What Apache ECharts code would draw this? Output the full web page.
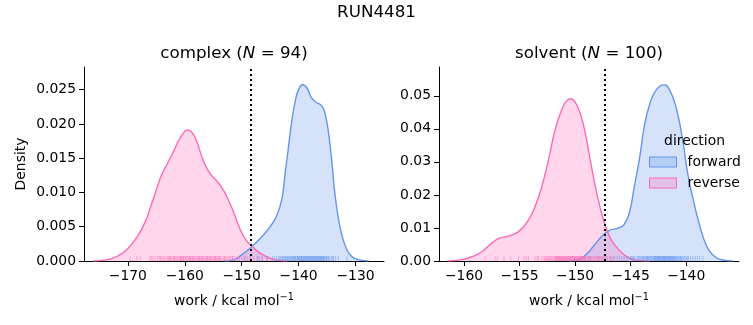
<!DOCTYPE html>
<html>
<head>
<meta charset="utf-8">
<script src="https://cdn.jsdelivr.net/npm/echarts@6/dist/echarts.min.js"></script>
<style>
  html, body { margin: 0; padding: 0; background: #fff; }
  #chart { width: 753px; height: 325px; }
</style>
</head>
<body>
<div id="chart"></div>
<script>
// ---- complex leg ----
const complexXTicks = [-170, -160, -150, -140, -130];
const complexYTicks = [0, 0.005, 0.010, 0.015, 0.020, 0.025];
const complexCutoff = -148.4;
// density curves: [work, density]
const complexForwardKde = [
  [-153.0, 0], [-151.7, 0.0001], [-150.0, 0.0009], [-148.2, 0.0021], [-146.4, 0.0036],
  [-145.0, 0.0050], [-143.8, 0.0067], [-142.9, 0.0092], [-142.4, 0.0126], [-141.8, 0.0165],
  [-141.2, 0.0204], [-140.6, 0.0233], [-140.0, 0.0250], [-139.3, 0.0257], [-138.5, 0.0252],
  [-137.8, 0.0239], [-137.0, 0.0232], [-135.9, 0.0226], [-135.3, 0.0213], [-134.7, 0.0184],
  [-134.1, 0.0140], [-133.6, 0.0096], [-133.0, 0.0062], [-132.4, 0.0038], [-131.5, 0.0016],
  [-130.6, 0.0006], [-129.5, 0.0002], [-127.7, 0]
];
const complexReverseKde = [
  [-176.0, 0], [-173.6, 0.0002], [-171.8, 0.0007], [-170.1, 0.0017], [-168.3, 0.0036],
  [-166.8, 0.0060], [-166.0, 0.0079], [-165.1, 0.0101], [-164.2, 0.0123], [-163.0, 0.0143],
  [-161.9, 0.0161], [-161.0, 0.0177], [-160.1, 0.0188], [-159.6, 0.0191], [-158.9, 0.0189],
  [-158.0, 0.0177], [-157.2, 0.0157], [-156.3, 0.0138], [-155.4, 0.0126], [-154.3, 0.0116],
  [-153.4, 0.0106], [-152.5, 0.0092], [-151.6, 0.0075], [-150.7, 0.0055], [-149.9, 0.0040],
  [-149.0, 0.0028], [-148.1, 0.0021], [-147.2, 0.0014], [-146.0, 0.0008], [-145.0, 0.0004],
  [-143.5, 0.0001], [-142.0, 0]
];
// individual work values (rug)
const complexForwardWork = [
  -151.6, -149.4, -148.5, -147.3, -146.9, -146.4, -145.5, -144.6, -144.2, -143.9,
  -143.5, -143.3, -143.1, -142.9, -142.8, -142.6, -142.5, -142.3, -142.2, -142.0,
  -141.9, -141.8, -141.6, -141.5, -141.3, -141.2, -141.1, -140.9, -140.8, -140.7,
  -140.6, -140.5, -140.3, -140.2, -140.1, -140.0, -139.9, -139.8, -139.7, -139.6,
  -139.5, -139.4, -139.3, -139.2, -139.1, -139.0, -138.9, -138.8, -138.7, -138.6,
  -138.5, -138.4, -138.3, -138.2, -138.1, -138.0, -137.9, -137.8, -137.7, -137.6,
  -137.5, -137.4, -137.3, -137.2, -137.1, -137.0, -136.9, -136.8, -136.7, -136.6,
  -136.5, -136.4, -136.3, -136.2, -136.1, -136.0, -135.9, -135.8, -135.7, -135.6,
  -135.5, -135.4, -135.2, -135.1, -135.0, -134.8, -134.7, -134.5, -134.2, -134.0,
  -133.9, -133.5, -133.0, -131.5
];
const complexReverseWork = [
  -169.6, -168.4, -167.8, -166.1, -165.9, -165.6, -165.2, -164.8, -164.5, -164.3,
  -164.1, -163.8, -163.6, -163.3, -163.0, -162.8, -162.7, -162.5, -162.3, -162.0,
  -161.9, -161.8, -161.6, -161.4, -161.2, -161.0, -160.8, -160.7, -160.6, -160.5,
  -160.3, -160.2, -160.1, -159.9, -159.7, -159.5, -159.4, -159.2, -159.1, -159.0,
  -158.8, -158.6, -158.5, -158.4, -158.2, -158.0, -157.8, -157.6, -157.5, -157.4,
  -157.2, -157.0, -156.9, -156.8, -156.6, -156.4, -156.2, -156.1, -156.0, -155.8,
  -155.6, -155.5, -155.4, -155.2, -155.0, -154.8, -154.7, -154.6, -154.4, -154.2,
  -154.0, -153.9, -153.8, -153.6, -153.3, -153.1, -153.0, -152.8, -152.5, -152.2,
  -152.0, -151.9, -151.6, -151.2, -150.8, -150.4, -150.0, -149.6, -149.0, -148.5,
  -147.9, -147.2, -146.4, -145.6
];

// ---- solvent leg ----
const solventXTicks = [-160, -155, -150, -145, -140];
const solventYTicks = [0, 0.01, 0.02, 0.03, 0.04, 0.05];
const solventCutoff = -147.3;
const solventForwardKde = [
  [-150.5, 0], [-149.7, 0.0004], [-149.0, 0.0020], [-148.3, 0.0047], [-147.5, 0.0078],
  [-146.9, 0.0093], [-146.2, 0.0099], [-145.6, 0.0110], [-145.1, 0.0149], [-144.7, 0.0220],
  [-144.2, 0.0311], [-143.8, 0.0402], [-143.3, 0.0473], [-142.7, 0.0518], [-142.0, 0.0533],
  [-141.5, 0.0518], [-140.9, 0.0463], [-140.3, 0.0362], [-139.9, 0.0271], [-139.4, 0.0190],
  [-138.8, 0.0109], [-138.2, 0.0048], [-137.6, 0.0018], [-136.7, 0.0003], [-135.8, 0]
];
const solventReverseKde = [
  [-161.5, 0], [-160.2, 0.0004], [-159.3, 0.0013], [-158.4, 0.0028], [-157.5, 0.0054],
  [-156.8, 0.0069], [-156.0, 0.0075], [-155.1, 0.0089], [-154.2, 0.0124], [-153.6, 0.0165],
  [-153.0, 0.0225], [-152.4, 0.0306], [-151.8, 0.0397], [-151.2, 0.0458], [-150.8, 0.0483],
  [-150.4, 0.0491], [-150.0, 0.0481], [-149.6, 0.0452], [-149.2, 0.0405], [-148.9, 0.0355],
  [-148.5, 0.0280], [-148.0, 0.0198], [-147.5, 0.0130], [-147.0, 0.0082], [-146.5, 0.0052],
  [-145.7, 0.0022], [-145.0, 0.0007], [-144.2, 0.0001], [-143.3, 0]
];
const solventForwardWork = [
  -149.1, -148.8, -148.6, -147.9, -147.2, -146.8, -146.5, -146.2, -145.8, -145.4,
  -145.0, -144.8, -144.6, -144.4, -144.2, -144.0, -143.9, -143.8, -143.7, -143.6,
  -143.5, -143.4, -143.3, -143.2, -143.1, -143.0, -142.95, -142.9, -142.85, -142.8,
  -142.75, -142.7, -142.65, -142.6, -142.55, -142.5, -142.45, -142.4, -142.35, -142.3,
  -142.25, -142.2, -142.15, -142.1, -142.05, -142.0, -141.95, -141.9, -141.85, -141.8,
  -141.75, -141.7, -141.65, -141.6, -141.55, -141.5, -141.45, -141.4, -141.35, -141.3,
  -141.25, -141.2, -141.1, -141.0, -140.9, -140.8, -140.7, -140.6, -140.5, -140.4,
  -140.3, -140.2, -140.1, -140.0, -139.9, -139.8, -139.6, -139.4, -139.2, -139.0,
  -138.8, -138.5, -145.6, -144.9, -144.3, -143.85, -143.45, -143.15, -142.0, -141.15,
  -140.85, -140.45, -141.05, -142.45, -143.55, -144.1, -144.7, -145.2, -146.0, -147.5
];
const solventReverseWork = [
  -158.1, -157.2, -157.0, -156.4, -155.8, -155.1, -154.6, -154.4, -154.2, -153.6,
  -153.4, -153.3, -152.8, -152.6, -152.5, -152.4, -152.3, -152.2, -152.1, -152.0,
  -151.9, -151.8, -151.75, -151.7, -151.6, -151.55, -151.5, -151.4, -151.35, -151.3,
  -151.2, -151.15, -151.1, -151.0, -150.95, -150.9, -150.85, -150.8, -150.75, -150.7,
  -150.65, -150.6, -150.55, -150.5, -150.45, -150.4, -150.35, -150.3, -150.25, -150.2,
  -150.15, -150.1, -150.05, -150.0, -149.95, -149.9, -149.85, -149.8, -149.75, -149.7,
  -149.65, -149.6, -149.55, -149.5, -149.45, -149.4, -149.35, -149.3, -149.2, -149.1,
  -149.0, -148.9, -148.8, -148.7, -148.6, -148.5, -148.4, -148.3, -148.2, -148.1,
  -148.0, -147.9, -147.8, -147.7, -147.6, -147.5, -147.4, -147.3, -147.1, -146.9,
  -146.7, -146.5, -153.0, -152.7, -151.65, -151.45, -151.25, -151.05, -149.15, -149.25
];

const FONT = 'DejaVu Sans';
const BLUE = '#6495ED';
const PINK = '#FF69B4';
const BLUE_FILL = 'rgba(100,149,237,0.27)';
const PINK_FILL = 'rgba(255,105,180,0.27)';

const minus = (s) => String(s).replace('-', '\u2212');

function xAxisFor(grid, min, max, ticks) {
  return {
    gridIndex: grid, type: 'value', min: min, max: max,
    axisLine: { show: true, onZero: false, lineStyle: { color: '#000', width: 1 } },
    axisTick: { show: true, length: 5, customValues: ticks, lineStyle: { color: '#000', width: 1 } },
    axisLabel: {
      customValues: ticks, formatter: (v) => minus(v), margin: 8,
      color: '#000', fontSize: 13.9, fontFamily: FONT
    },
    splitLine: { show: false },
    name: 'work / kcal mol{sup|\u22121}', nameLocation: 'middle', nameGap: 31,
    nameTextStyle: {
      color: '#000', fontSize: 13.9, fontFamily: FONT,
      rich: { sup: { fontSize: 9.7, fontFamily: FONT, color: '#000', padding: [0, 0, 8, 0] } }
    }
  };
}

function yAxisFor(grid, max, ticks, digits, name) {
  return {
    gridIndex: grid, type: 'value', min: 0, max: max,
    axisLine: { show: true, onZero: false, lineStyle: { color: '#000', width: 1 } },
    axisTick: { show: true, length: 5, customValues: ticks, lineStyle: { color: '#000', width: 1 } },
    axisLabel: {
      customValues: ticks, formatter: (v) => v.toFixed(digits), margin: 8,
      color: '#000', fontSize: 13.9, fontFamily: FONT
    },
    splitLine: { show: false },
    name: name, nameLocation: 'middle', nameGap: 56,
    nameTextStyle: { color: '#000', fontSize: 13.9, fontFamily: FONT }
  };
}

function kdeSeries(name, data, grid, line, fill) {
  return {
    name: name, type: 'line', data: data, xAxisIndex: grid, yAxisIndex: grid,
    showSymbol: false, smooth: 0.5,
    lineStyle: { color: line, width: 1.4 },
    itemStyle: { color: line },
    areaStyle: { color: fill, opacity: 1, origin: 'start' },
    silent: true, z: 2
  };
}

function rugSeries(values, grid, color, cutoff) {
  const s = {
    name: 'rug', type: 'custom', xAxisIndex: grid, yAxisIndex: grid,
    data: values.map((v) => [v, 0]),
    encode: { x: 0, y: 1 },
    renderItem: function (params, api) {
      const p = api.coord([api.value(0), 0]);
      return {
        type: 'line',
        shape: { x1: p[0], y1: p[1], x2: p[0], y2: p[1] - 5 },
        style: { stroke: color, lineWidth: 1, opacity: 0.5 }
      };
    },
    silent: true, z: 3
  };
  if (cutoff !== undefined) {
    s.markLine = {
      silent: true, symbol: 'none', label: { show: false },
      lineStyle: { color: '#000', width: 2, type: [2, 3] },
      data: [{ xAxis: cutoff }], z: 10, animation: false
    };
  }
  return s;
}

const chart = echarts.init(document.getElementById('chart'), null, { renderer: 'canvas' });
chart.setOption({
  animation: false,
  backgroundColor: '#fff',
  textStyle: { fontFamily: FONT },
  grid: [
    { left: 84, top: 67, width: 300, height: 194 },
    { left: 439, top: 67, width: 300, height: 194 }
  ],
  xAxis: [
    xAxisFor(0, -177.7, -125.0, complexXTicks),
    xAxisFor(1, -162.25, -135.25, solventXTicks)
  ],
  yAxis: [
    yAxisFor(0, 0.0283, complexYTicks, 3, 'Density'),
    yAxisFor(1, 0.0587, solventYTicks, 2, '')
  ],
  legend: {
    data: [
      { name: 'forward', itemStyle: { color: BLUE_FILL, borderColor: BLUE, borderWidth: 1 } },
      { name: 'reverse', itemStyle: { color: PINK_FILL, borderColor: PINK, borderWidth: 1 } }
    ],
    orient: 'vertical', left: 649, top: 155, padding: 0,
    itemWidth: 27, itemHeight: 10, itemGap: 7, icon: 'rect', selectedMode: false,
    textStyle: { color: '#000', fontSize: 13.9, fontFamily: FONT, padding: [0, 0, 0, 6] }
  },
  graphic: [
    { type: 'text', x: 376.5, y: 13, style: { text: 'RUN4481', fill: '#000', font: '16.7px "DejaVu Sans"', align: 'center', verticalAlign: 'middle' } },
    { type: 'text', x: 234, y: 54, style: {
        text: 'complex ({i|N} = 94)', fill: '#000', fontSize: 16.7, fontFamily: FONT, align: 'center', verticalAlign: 'middle',
        rich: { i: { fontStyle: 'italic', fontSize: 16.7, fontFamily: FONT, fill: '#000' } } } },
    { type: 'text', x: 589, y: 54, style: {
        text: 'solvent ({i|N} = 100)', fill: '#000', fontSize: 16.7, fontFamily: FONT, align: 'center', verticalAlign: 'middle',
        rich: { i: { fontStyle: 'italic', fontSize: 16.7, fontFamily: FONT, fill: '#000' } } } },
    { type: 'text', x: 694.5, y: 141, z: 100, style: { text: 'direction', fill: '#000', font: '13.9px "DejaVu Sans"', align: 'center', verticalAlign: 'middle' } }
  ],
  series: [
    kdeSeries('forward', complexForwardKde, 0, BLUE, BLUE_FILL),
    kdeSeries('reverse', complexReverseKde, 0, PINK, PINK_FILL),
    rugSeries(complexForwardWork, 0, BLUE),
    rugSeries(complexReverseWork, 0, PINK, complexCutoff),
    kdeSeries('forward', solventForwardKde, 1, BLUE, BLUE_FILL),
    kdeSeries('reverse', solventReverseKde, 1, PINK, PINK_FILL),
    rugSeries(solventForwardWork, 1, BLUE),
    rugSeries(solventReverseWork, 1, PINK, solventCutoff)
  ]
});
</script>
</body>
</html>
